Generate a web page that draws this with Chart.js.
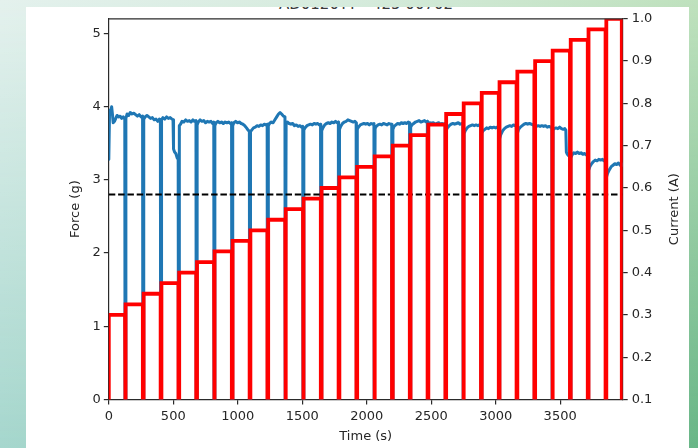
<!DOCTYPE html>
<html>
<head>
<meta charset="utf-8">
<script src="https://cdn.jsdelivr.net/npm/chart.js@4.4.1/dist/chart.umd.min.js"></script>
<style>
    html, body { margin: 0; padding: 0; }
    body {
        width: 698px; height: 448px; overflow: hidden; position: relative;
        background: linear-gradient(to right, #a6d7ce 0%, #94cdb0 55%, #68b687 100%);
    }
    #fondoSup {
        position: absolute; left: 0; top: 0; width: 698px; height: 448px;
        background: linear-gradient(to right, #e4f1ed 0%, #d6ebdd 50%, #bfe1bd 100%);
        -webkit-mask-image: linear-gradient(to bottom, #000 0%, rgba(0,0,0,0.6) 40%, transparent 100%);
        mask-image: linear-gradient(to bottom, #000 0%, rgba(0,0,0,0.6) 40%, transparent 100%);
    }
    #panel { position: absolute; left: 26px; top: 7px; width: 663px; height: 441px; background: #fff; overflow: hidden; }
    #titulo {
        position: absolute; left: 0; top: -10px; width: 680px; text-align: center;
        font: 15px "DejaVu Sans"; line-height: 15px; color: #3a3a3a;
    }
    #grafica { position: absolute; left: 0; top: 0; }
</style>
</head>
<body>
<div id="fondoSup"></div>
<div id="panel">
    <div id="titulo">AD0120TT - 425 00702</div>
    <canvas id="grafica" width="663" height="441"></canvas>
</div>
<script>
// instantes (s) en que la corriente se corta entre escalones
const tiempoPulsos = [126, 264, 402, 540, 678, 816, 954, 1092, 1230, 1368, 1506, 1644, 1782, 1920,
    2058, 2196, 2334, 2472, 2610, 2748, 2886, 3024, 3162, 3300, 3438, 3576, 3714, 3852];
const tiempoApagado = 6;
const tiempoFinal = 3978;
const tiempoMax = 3985;

// nivel de corriente (A) de cada escalón
const corrienteNiveles = [0.300, 0.325, 0.350, 0.375, 0.400, 0.425, 0.450, 0.475, 0.500, 0.525,
    0.550, 0.575, 0.600, 0.625, 0.650, 0.675, 0.700, 0.725, 0.750, 0.775,
    0.800, 0.825, 0.850, 0.875, 0.900, 0.925, 0.950, 0.975, 1.000];

// fuerza (g) medida en cada escalón: [tiempo, fuerza]
const fuerzaSegmentos = [
    [[0,3.28],[6,3.95],[14,3.92],[22,4.0],[28,3.9],[34,3.78],[44,3.8],[54,3.84],[64,3.88],[76,3.86],[88,3.87],[100,3.84],[112,3.86],[124,3.83]],
    [[133,3.84],[142,3.9],[154,3.88],[166,3.92],[180,3.9],[194,3.91],[208,3.89],[222,3.87],[236,3.89],[250,3.86],[262,3.87]],
    [[271,3.83],[282,3.86],[296,3.88],[310,3.86],[324,3.84],[338,3.85],[352,3.82],[366,3.83],[380,3.8],[392,3.83],[400,3.82]],
    [[409,3.82],[420,3.85],[434,3.83],[448,3.86],[462,3.84],[476,3.85],[490,3.83],[498,3.82],[502,3.42],[510,3.38],[520,3.36],[530,3.3],[538,3.28]],
    [[547,3.74],[556,3.76],[568,3.8],[582,3.79],[596,3.82],[610,3.8],[624,3.81],[638,3.79],[652,3.82],[664,3.8],[676,3.81]],
    [[685,3.75],[694,3.79],[708,3.82],[722,3.8],[736,3.81],[750,3.78],[764,3.8],[778,3.79],[792,3.8],[804,3.77],[814,3.79]],
    [[823,3.74],[832,3.78],[846,3.8],[860,3.78],[874,3.79],[888,3.77],[902,3.79],[916,3.78],[930,3.79],[942,3.77],[952,3.78]],
    [[961,3.74],[970,3.78],[984,3.8],[998,3.78],[1012,3.79],[1026,3.77],[1040,3.76],[1054,3.74],[1068,3.71],[1080,3.68],[1090,3.66]],
    [[1099,3.66],[1108,3.68],[1122,3.71],[1136,3.72],[1150,3.74],[1164,3.73],[1178,3.75],[1192,3.74],[1206,3.76],[1218,3.75],[1228,3.76]],
    [[1237,3.74],[1246,3.77],[1260,3.79],[1274,3.78],[1288,3.82],[1302,3.86],[1316,3.9],[1328,3.92],[1340,3.9],[1354,3.87],[1366,3.86]],
    [[1375,3.76],[1384,3.79],[1398,3.77],[1412,3.76],[1426,3.77],[1440,3.74],[1454,3.75],[1468,3.73],[1482,3.74],[1494,3.72],[1504,3.73]],
    [[1513,3.68],[1522,3.71],[1536,3.74],[1550,3.75],[1564,3.76],[1578,3.75],[1592,3.77],[1606,3.76],[1620,3.77],[1632,3.75],[1642,3.76]],
    [[1651,3.67],[1660,3.71],[1674,3.75],[1688,3.77],[1702,3.78],[1716,3.77],[1730,3.79],[1744,3.78],[1758,3.8],[1770,3.78],[1780,3.79]],
    [[1789,3.69],[1798,3.73],[1812,3.77],[1826,3.79],[1840,3.8],[1854,3.82],[1868,3.81],[1882,3.8],[1896,3.79],[1908,3.8],[1918,3.78]],
    [[1927,3.69],[1936,3.72],[1950,3.75],[1964,3.76],[1978,3.77],[1992,3.76],[2006,3.77],[2020,3.75],[2034,3.77],[2046,3.76],[2056,3.77]],
    [[2065,3.7],[2074,3.73],[2088,3.75],[2102,3.76],[2116,3.75],[2130,3.77],[2144,3.76],[2158,3.75],[2172,3.77],[2184,3.76],[2194,3.76]],
    [[2203,3.69],[2212,3.73],[2226,3.75],[2240,3.77],[2254,3.76],[2268,3.78],[2282,3.77],[2296,3.78],[2310,3.77],[2322,3.79],[2332,3.78]],
    [[2341,3.72],[2350,3.75],[2364,3.77],[2378,3.79],[2392,3.8],[2406,3.81],[2420,3.79],[2434,3.8],[2448,3.81],[2460,3.79],[2470,3.8]],
    [[2479,3.76],[2488,3.78],[2502,3.77],[2516,3.78],[2530,3.76],[2544,3.77],[2558,3.78],[2572,3.76],[2586,3.77],[2598,3.76],[2608,3.77]],
    [[2617,3.68],[2626,3.71],[2640,3.74],[2654,3.76],[2668,3.77],[2682,3.76],[2696,3.77],[2710,3.78],[2724,3.76],[2736,3.77],[2746,3.76]],
    [[2755,3.63],[2764,3.67],[2778,3.71],[2792,3.73],[2806,3.74],[2820,3.75],[2834,3.74],[2848,3.75],[2862,3.74],[2874,3.75],[2884,3.74]],
    [[2893,3.64],[2902,3.67],[2916,3.69],[2930,3.71],[2944,3.7],[2958,3.72],[2972,3.71],[2986,3.72],[3000,3.71],[3012,3.72],[3022,3.71]],
    [[3031,3.56],[3040,3.62],[3054,3.67],[3068,3.7],[3082,3.72],[3096,3.73],[3110,3.74],[3124,3.73],[3138,3.75],[3150,3.74],[3160,3.75]],
    [[3169,3.64],[3178,3.69],[3192,3.72],[3206,3.74],[3220,3.76],[3234,3.77],[3248,3.76],[3262,3.77],[3276,3.76],[3288,3.75],[3298,3.74]],
    [[3307,3.71],[3316,3.73],[3330,3.74],[3344,3.73],[3358,3.74],[3372,3.73],[3386,3.74],[3400,3.72],[3414,3.73],[3426,3.72],[3436,3.72]],
    [[3445,3.68],[3454,3.7],[3468,3.71],[3482,3.7],[3496,3.72],[3510,3.7],[3524,3.69],[3536,3.7],[3544,3.68],[3548,3.38],[3556,3.35],[3566,3.33],[3574,3.32]],
    [[3583,3.3],[3592,3.34],[3606,3.37],[3620,3.36],[3634,3.38],[3648,3.36],[3662,3.37],[3676,3.35],[3690,3.36],[3702,3.34],[3712,3.35]],
    [[3721,3.13],[3730,3.18],[3744,3.22],[3758,3.25],[3772,3.27],[3786,3.26],[3800,3.28],[3814,3.27],[3828,3.28],[3840,3.26],[3850,3.27]],
    [[3859,3.04],[3868,3.09],[3882,3.14],[3896,3.18],[3910,3.2],[3924,3.22],[3938,3.21],[3952,3.23],[3966,3.2],[3978,3.22],[3985,3.2]]
];

const umbralFuerza = 2.8;

const ticksTiempo = [0, 500, 1000, 1500, 2000, 2500, 3000, 3500];
const ticksFuerza = [0, 1, 2, 3, 4, 5];
const ticksCorriente = [0.1, 0.2, 0.3, 0.4, 0.5, 0.6, 0.7, 0.8, 0.9, 1.0];

// escalones de corriente con el corte entre cada uno
const puntosCorriente = [{ x: 0, y: 0 }, { x: 0, y: corrienteNiveles[0] }];
tiempoPulsos.forEach((t, i) => {
    puntosCorriente.push(
        { x: t, y: corrienteNiveles[i] },
        { x: t, y: 0 },
        { x: t + tiempoApagado, y: 0 },
        { x: t + tiempoApagado, y: corrienteNiveles[i + 1] }
    );
});
puntosCorriente.push(
    { x: tiempoFinal, y: corrienteNiveles[corrienteNiveles.length - 1] },
    { x: tiempoFinal, y: 0 }
);

// la fuerza cae a cero en cada corte
const puntosFuerza = [];
fuerzaSegmentos.forEach((seg, i) => {
    seg.forEach(([x, y]) => puntosFuerza.push({ x, y }));
    if (i < tiempoPulsos.length) {
        const t = tiempoPulsos[i];
        puntosFuerza.push({ x: t, y: 0 }, { x: t + tiempoApagado, y: 0 });
    }
});

const colorEje = '#2a2a2a';
const colorTexto = '#262626';
Chart.defaults.font.family = '"DejaVu Sans", sans-serif';
Chart.defaults.font.size = 13;
Chart.defaults.color = colorTexto;

const ejeBase = {
    grid: { drawOnChartArea: false, drawTicks: true, tickLength: 5, color: colorEje, lineWidth: 1.2 },
    border: { display: true, color: colorEje, width: 1.2 }
};

// marco superior y etiqueta del eje derecho (leída de abajo arriba)
const marco = {
    id: 'marco',
    afterDatasetsDraw(chart) {
        const { ctx, chartArea: a } = chart;
        ctx.save();
        ctx.strokeStyle = colorEje;
        ctx.lineWidth = 1.2;
        ctx.beginPath();
        ctx.moveTo(a.left, a.top);
        ctx.lineTo(a.right, a.top);
        ctx.stroke();
        ctx.restore();
    },
    afterDraw(chart) {
        const { ctx, chartArea: a } = chart;
        ctx.save();
        ctx.translate(a.right + 51.5, (a.top + a.bottom) / 2);
        ctx.rotate(-Math.PI / 2);
        ctx.font = '13px "DejaVu Sans"';
        ctx.fillStyle = colorTexto;
        ctx.textAlign = 'center';
        ctx.textBaseline = 'middle';
        ctx.fillText('Current (A)', 0, 0);
        ctx.restore();
    }
};

const ctx = document.getElementById('grafica').getContext('2d');
new Chart(ctx, {
    type: 'line',
    data: {
        datasets: [
            {
                label: 'Current (A)',
                data: puntosCorriente,
                yAxisID: 'y2',
                borderColor: '#ff0000',
                borderWidth: 3.8,
                order: 0
            },
            {
                label: 'Umbral',
                data: [{ x: 0, y: umbralFuerza }, { x: tiempoMax, y: umbralFuerza }],
                yAxisID: 'y',
                borderColor: '#000000',
                borderWidth: 1.8,
                borderDash: [6.5, 2.8],
                order: 1
            },
            {
                label: 'Force (g)',
                data: puntosFuerza,
                yAxisID: 'y',
                borderColor: '#1f77b4',
                borderWidth: 3,
                borderJoinStyle: 'round',
                borderCapStyle: 'round',
                order: 2
            }
        ]
    },
    options: {
        responsive: false,
        animation: false,
        layout: { padding: { top: 11.3, left: 0, right: 0, bottom: 0 } },
        elements: { point: { radius: 0 }, line: { tension: 0 } },
        plugins: { legend: { display: false }, tooltip: { enabled: false }, title: { display: false } },
        scales: {
            x: {
                ...ejeBase,
                type: 'linear',
                min: 0,
                max: tiempoMax,
                afterBuildTicks: s => { s.ticks = ticksTiempo.map(v => ({ value: v })); },
                afterFit: s => { s.height = 48.5; },
                ticks: { padding: 4, autoSkip: false, maxRotation: 0, callback: v => String(v) },
                title: { display: true, text: 'Time (s)', padding: { top: 0, bottom: 3.5 } }
            },
            y: {
                ...ejeBase,
                position: 'left',
                min: 0,
                max: 5.2,
                afterBuildTicks: s => { s.ticks = ticksFuerza.map(v => ({ value: v })); },
                afterFit: s => { s.width = 82.8; },
                ticks: { padding: 3, callback: v => String(v) },
                title: { display: true, text: 'Force (g)', padding: { top: 42, bottom: 0 } }
            },
            y2: {
                ...ejeBase,
                position: 'right',
                min: 0.1,
                max: 1.0,
                afterBuildTicks: s => { s.ticks = ticksCorriente.map(v => ({ value: v })); },
                afterFit: s => { s.width = 66.3; },
                ticks: { padding: 4, callback: v => v.toFixed(1) }
            }
        }
    },
    plugins: [marco]
});
</script>
</body>
</html>
